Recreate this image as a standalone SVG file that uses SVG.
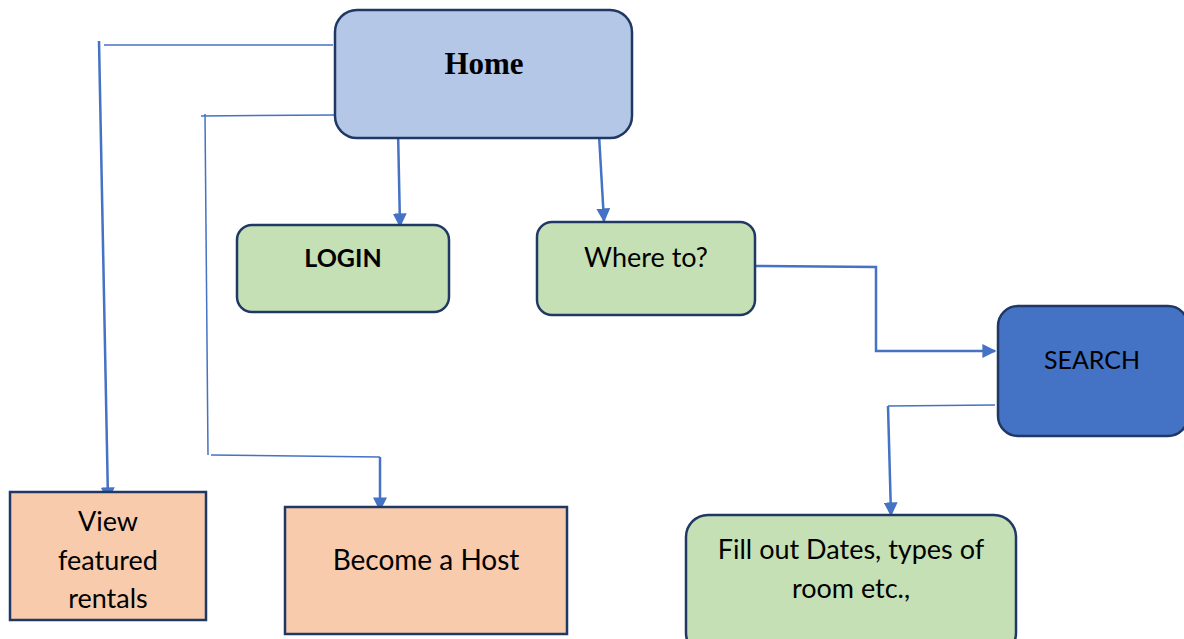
<svg xmlns="http://www.w3.org/2000/svg" width="1184" height="639" viewBox="0 0 1184 639">
<style>
.box{stroke:#203864;stroke-width:2.5}
.blue{fill:#B4C7E7}.green{fill:#C5E0B4}.dark{fill:#4472C4}.peach{fill:#F8CBAD}
.t{font-family:Lato,"Liberation Sans",sans-serif;font-size:27px;fill:#000;text-anchor:middle}
.c{fill:none;stroke:#4472C4}
.thin{stroke-width:1.5}.thick{stroke-width:2.5}
</style>
<defs>
<marker id="ah2" markerWidth="14" markerHeight="14" viewBox="0 0 10 10" refX="9" refY="5" orient="auto" markerUnits="userSpaceOnUse">
<path d="M0,0 L10,5 L0,10 z" fill="#4472C4"/>
</marker>
</defs>
<g id="connectors">
<path class="c thin" d="M333,45 L104,45"/>
<path class="c thick" d="M99,41 L108,500" marker-end="url(#ah2)"/>
<path class="c thin" d="M335,115 L201,116"/>
<path class="c thin" d="M205,114 L208,455"/>
<path class="c thin" d="M211,455 L380,457"/>
<path class="c thick" d="M380,457 L380,510" marker-end="url(#ah2)"/>
<path class="c thick" d="M398,130 L400,226" marker-end="url(#ah2)"/>
<path class="c thick" d="M599,135 L604,221" marker-end="url(#ah2)"/>
<path class="c thick" d="M755,266 L876,267 L876,351 L995,351" marker-end="url(#ah2)"/>
<path class="c thin" d="M995,405 L888,406"/>
<path class="c thick" d="M888,406 L891,515" marker-end="url(#ah2)"/>
</g>
<g id="home">
<rect class="box blue" x="335" y="10" width="297" height="128" rx="22"/>
<text x="484" y="74" style="font-family:'Liberation Serif',serif;font-size:31px;font-weight:bold;text-anchor:middle">Home</text>
</g>
<g id="login">
<rect class="box green" x="237" y="225" width="212" height="87" rx="15"/>
<text class="t" x="343" y="267" font-weight="bold" style="font-size:25px">LOGIN</text>
</g>
<g id="whereto">
<rect class="box green" x="537" y="222" width="218" height="93" rx="15"/>
<text class="t" x="646" y="267">Where to?</text>
</g>
<g id="search">
<rect class="box dark" x="998" y="306" width="190" height="130" rx="20"/>
<text class="t" x="1092" y="369" style="font-size:25px">SEARCH</text>
</g>
<g id="fillout">
<rect class="box green" x="686" y="515" width="330" height="140" rx="22"/>
<text class="t" x="851" y="559">Fill out Dates, types of</text>
<text class="t" x="851" y="598">room etc.,</text>
</g>
<g id="view">
<rect class="box peach" x="10" y="492" width="196" height="128"/>
<text class="t" x="108" y="531">View</text>
<text class="t" x="108" y="570">featured</text>
<text class="t" x="108" y="608">rentals</text>
</g>
<g id="host">
<rect class="box peach" x="285" y="507" width="282" height="127"/>
<text class="t" x="426" y="570" style="font-size:28px">Become a Host</text>
</g>
</svg>
